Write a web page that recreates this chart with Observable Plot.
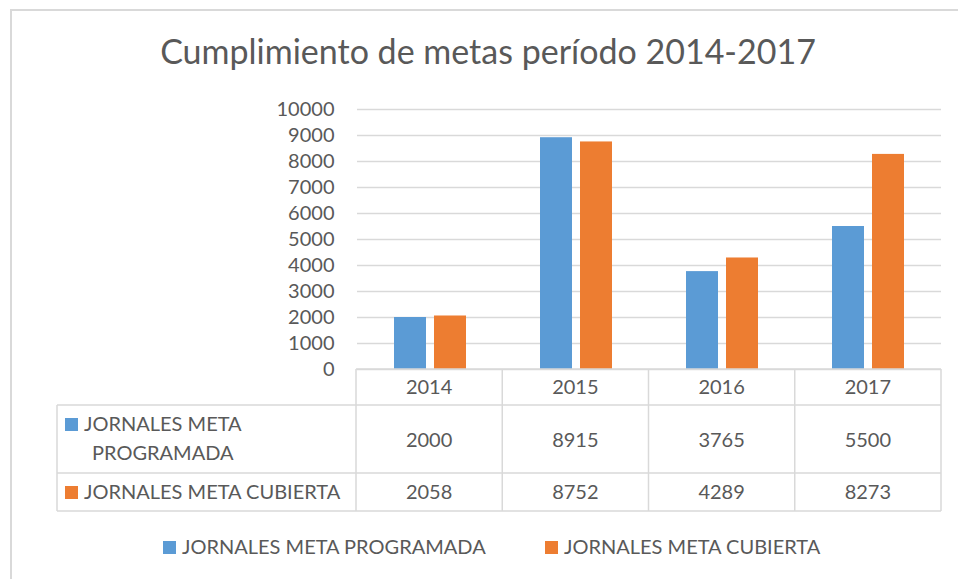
<!DOCTYPE html>
<html>
<head>
<meta charset="utf-8">
<script src="https://cdn.jsdelivr.net/npm/d3@7"></script>
<script src="https://cdn.jsdelivr.net/npm/@observablehq/plot@0.6"></script>
<style>
  html, body { margin: 0; padding: 0; background: #fff; overflow: hidden; }
  #wrap { position: relative; width: 958px; height: 579px; font-family: Lato, "Open Sans", sans-serif; color: #595959; }
  #frame { position: absolute; left: 10px; top: 9px; width: 2000px; height: 2000px; border: 2px solid #d9d9d9; box-sizing: border-box; pointer-events: none; }
  #title { height: 100px; box-sizing: border-box; padding-top: 34px; margin: 0; font-size: 34px; line-height: 1; font-weight: normal; text-align: center; width: 976px; white-space: nowrap; }
  #chart svg { display: block; }
  #legend { position: relative; height: 59px; }
  .item { position: absolute; top: 16px; font-size: 20px; line-height: 1; white-space: nowrap; }
  .sw { display: inline-block; width: 13px; height: 13px; margin-right: 6px; }
</style>
</head>
<body>
<div id="wrap">
  <div id="frame"></div>
  <h2 id="title"></h2>
  <div id="chart"></div>
  <div id="legend"></div>
</div>
<script>
const titleText = "Cumplimiento de metas período 2014-2017";
const years = ["2014", "2015", "2016", "2017"];
const seriesNames = ["JORNALES META PROGRAMADA", "JORNALES META CUBIERTA"];
const programada = [2000, 8915, 3765, 5500];
const cubierta = [2058, 8752, 4289, 8273];
const yTicks = [0, 1000, 2000, 3000, 4000, 5000, 6000, 7000, 8000, 9000, 10000];
const seriesColors = ["#5B9BD5", "#ED7D31"];
const rowLabelLines = [["JORNALES META", "PROGRAMADA"], ["JORNALES META CUBIERTA"]];

document.getElementById("title").textContent = titleText;

const seriesValues = [programada, cubierta];
const data = [];
years.forEach((yr, i) => {
  seriesNames.forEach((s, j) => data.push({year: yr, series: s, value: seriesValues[j][i]}));
});

const gridColor = "#d9d9d9";
const textColor = "#595959";

const plot = Plot.plot({
  width: 958,
  height: 420,
  marginTop: 9,
  marginBottom: 151,
  marginLeft: 356,
  marginRight: 17,
  style: {fontFamily: "Lato, 'Open Sans', sans-serif", fontSize: "20px", color: textColor, background: "transparent", overflow: "visible"},
  fx: {domain: years, padding: 0, axis: null, label: null},
  x: {domain: seriesNames, paddingInner: 0.195, paddingOuter: 0.878, axis: null, label: null},
  y: {domain: [0, 10000], ticks: yTicks, tickSize: 0, tickPadding: 23, label: null, tickFormat: d => String(d)},
  color: {domain: seriesNames, range: seriesColors},
  marks: [
    Plot.ruleY(yTicks, {stroke: gridColor, strokeWidth: 1.5}),
    Plot.barY(data, {fx: "year", x: "series", y: "value", fill: "series"})
  ]
});
document.getElementById("chart").appendChild(plot);

// Data table under the chart, positioned from Plot's own scales
const fxS = plot.scale("fx");
const yS = plot.scale("y");
const band = d3.scaleBand().domain(fxS.domain).range(fxS.range)
  .paddingInner(fxS.paddingInner ?? 0).paddingOuter(fxS.paddingOuter ?? 0).align(fxS.align ?? 0.5);
const y0 = yS.apply(0);
const left = 57;
const xStart = band.range()[0];
const xEnd = band.range()[1];
const rowEdges = [y0, y0 + 36, y0 + 104, y0 + 142];

const svg = d3.select(plot);
const g = svg.append("g").attr("font-family", "Lato, 'Open Sans', sans-serif").attr("font-size", 20).attr("fill", textColor);
const lines = g.append("g").attr("stroke", gridColor).attr("stroke-width", 1.5);
lines.append("line").attr("x1", xStart).attr("x2", xEnd).attr("y1", rowEdges[0]).attr("y2", rowEdges[0]);
[1, 2, 3].forEach(k => lines.append("line").attr("x1", left).attr("x2", xEnd).attr("y1", rowEdges[k]).attr("y2", rowEdges[k]));
lines.append("line").attr("x1", left).attr("x2", left).attr("y1", rowEdges[1]).attr("y2", rowEdges[3]);
years.forEach(yr => {
  const x = band(yr);
  lines.append("line").attr("x1", x).attr("x2", x).attr("y1", rowEdges[0]).attr("y2", rowEdges[3]);
});
lines.append("line").attr("x1", xEnd).attr("x2", xEnd).attr("y1", rowEdges[0]).attr("y2", rowEdges[3]);

years.forEach((yr, i) => {
  const cx = band(yr) + band.bandwidth() / 2;
  g.append("text").attr("x", cx).attr("y", y0 + 25).attr("text-anchor", "middle").text(yr);
  g.append("text").attr("x", cx).attr("y", y0 + 78).attr("text-anchor", "middle").text(programada[i]);
  g.append("text").attr("x", cx).attr("y", y0 + 130).attr("text-anchor", "middle").text(cubierta[i]);
});

// Row labels with swatches
g.append("rect").attr("x", left + 8).attr("y", y0 + 49).attr("width", 13).attr("height", 13).attr("fill", seriesColors[0]);
g.append("text").attr("x", left + 27).attr("y", y0 + 62).attr("text-anchor", "start").text(rowLabelLines[0][0]);
g.append("text").attr("x", left + 35).attr("y", y0 + 91).attr("text-anchor", "start").text(rowLabelLines[0][1]);
g.append("rect").attr("x", left + 8).attr("y", y0 + 117).attr("width", 13).attr("height", 13).attr("fill", seriesColors[1]);
g.append("text").attr("x", left + 27).attr("y", y0 + 130).attr("text-anchor", "start").text(rowLabelLines[1][0]);

// Legend
const legend = document.getElementById("legend");
const legendLefts = [163, 545];
seriesNames.forEach((s, i) => {
  const item = document.createElement("div");
  item.className = "item";
  item.style.left = legendLefts[i] + "px";
  const sw = document.createElement("span");
  sw.className = "sw";
  sw.style.background = seriesColors[i];
  item.appendChild(sw);
  item.appendChild(document.createTextNode(s));
  legend.appendChild(item);
});
</script>
</body>
</html>
